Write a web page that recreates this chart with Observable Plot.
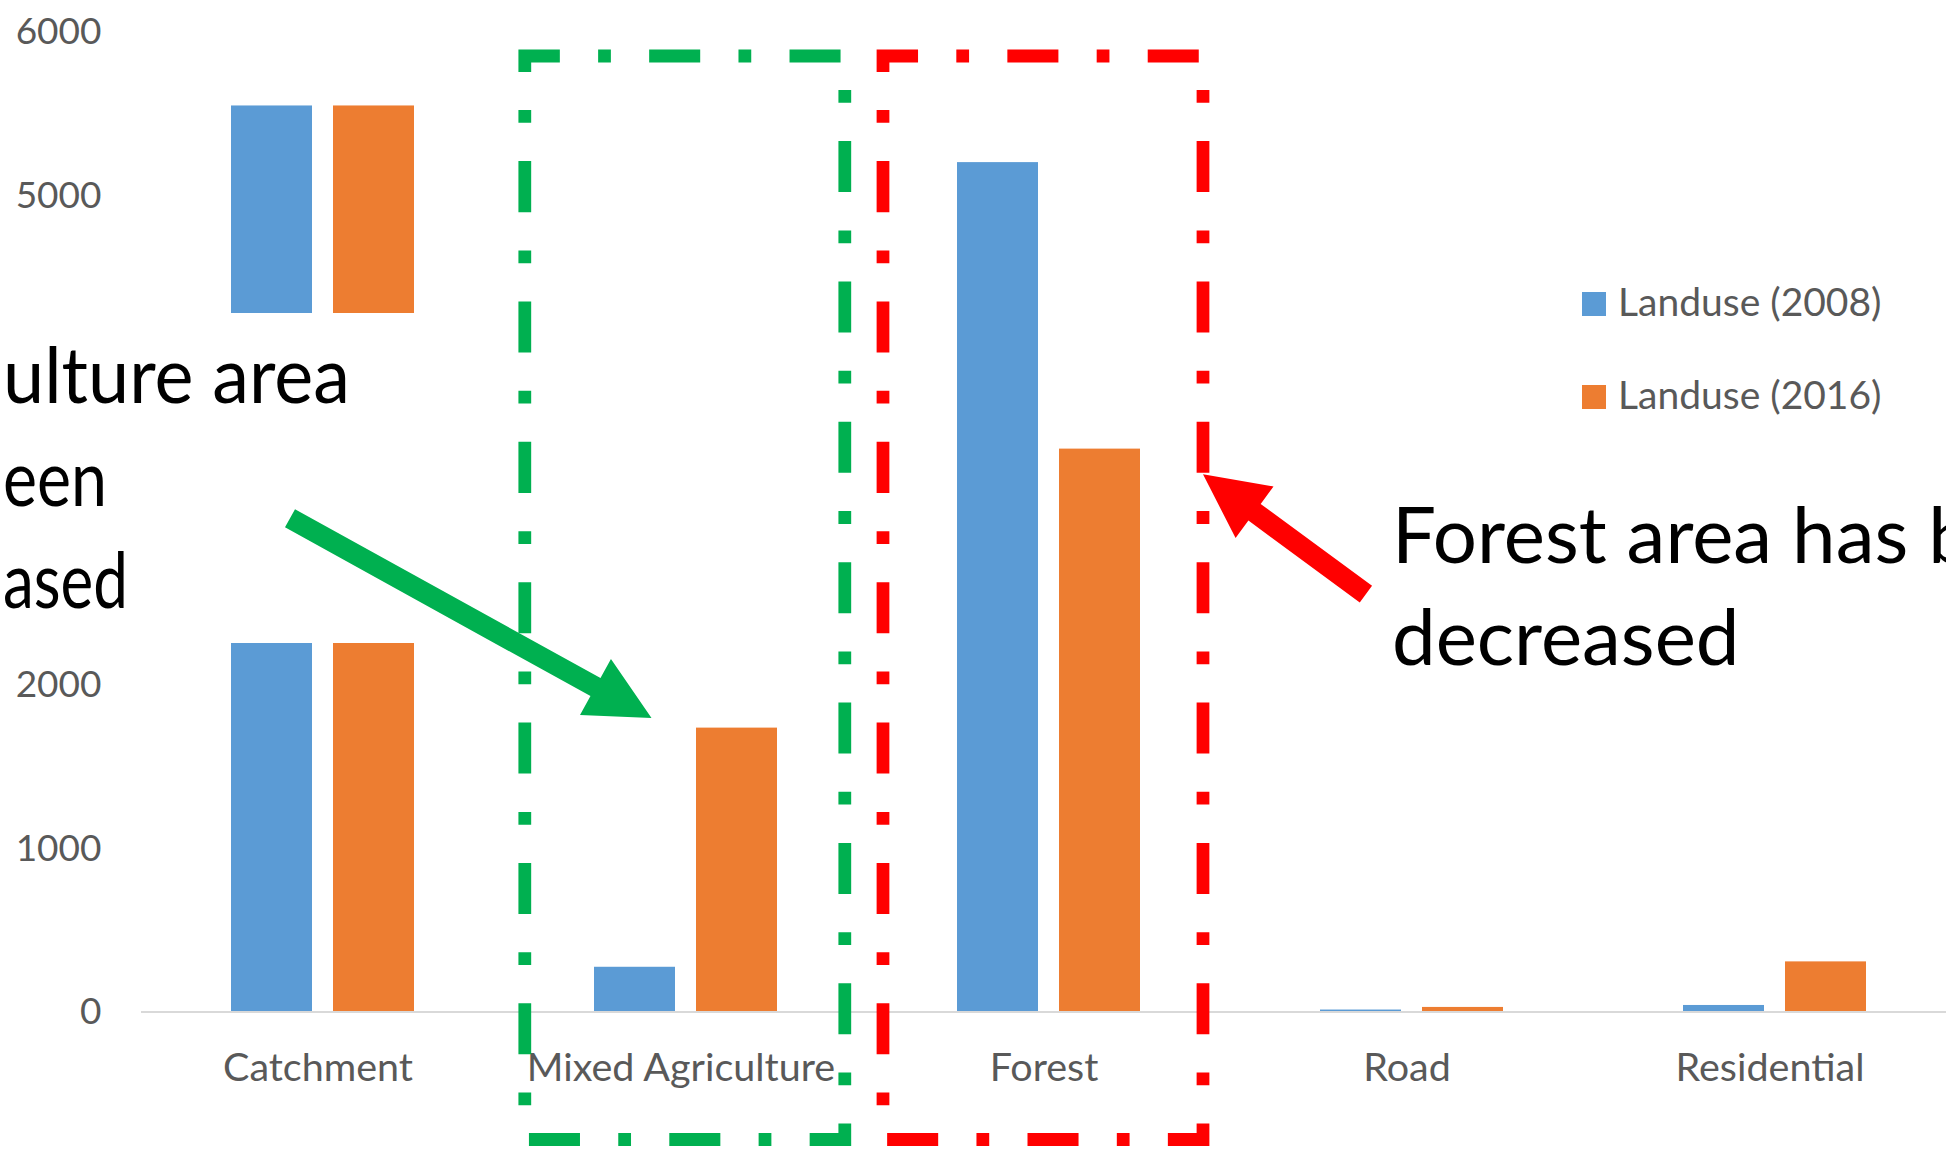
<!DOCTYPE html>
<html>
<head>
<meta charset="utf-8">
<script src="https://cdn.jsdelivr.net/npm/d3@7"></script>
<script src="https://cdn.jsdelivr.net/npm/@observablehq/plot@0.6"></script>
<style>
  html, body { margin: 0; padding: 0; background: #fff; overflow: hidden; }
  #chart svg { display: block; }
</style>
</head>
<body>
<div id="chart"></div>
<script>
// ---- data ----
const categories = ["Catchment", "Mixed Agriculture", "Forest", "Road", "Residential"];
const seriesNames = ["Landuse (2008)", "Landuse (2016)"];
const landuse2008 = [5550, 274, 5203, 12, 40];
const landuse2016 = [5550, 1739, 3448, 28, 307];
// 3000 and 4000 are hidden under the annotation box in the reference
const yTicks = [0, 1000, 2000, 5000, 6000];
const seriesColors = ["#5B9BD5", "#ED7D31"];

// visible parts of the annotation texts (the reference is cropped)
const annotationLeft = ["ulture area", "een", "ased"];
const annotationRight = ["Forest area has been", "decreased"];

const rows = categories.flatMap((c, i) => [
  {category: c, series: seriesNames[0], value: landuse2008[i]},
  {category: c, series: seriesNames[1], value: landuse2016[i]}
]);

const W = 1946, H = 1154;
const axisGray = "#595959";
const FONT = "Lato, 'Open Sans', sans-serif";

const plot = Plot.plot({
  width: W,
  height: H,
  marginLeft: 140,
  marginRight: -11,
  marginTop: 32,
  marginBottom: 142.5,
  style: {fontFamily: FONT, fontSize: "38px", background: "white", color: axisGray},
  fx: {domain: categories, padding: 0, label: null},
  x: {domain: seriesNames, paddingInner: 0.204, paddingOuter: 0.866, axis: null},
  y: {domain: [0, 6000]},
  color: {domain: seriesNames, range: seriesColors},
  marks: [
    Plot.barY(rows, {fx: "category", x: "series", y: "value", fill: "series"}),
    Plot.ruleY([0], {stroke: "#d9d9d9", strokeWidth: 2}),
    Plot.axisY({ticks: yTicks, tickSize: 0, tickPadding: 40, label: null, fill: axisGray, fontSize: 37, tickFormat: d => String(d)}),
    Plot.axisFx({anchor: "bottom", tickSize: 0, tickPadding: 41, label: null, fill: axisGray, fontSize: 39.5, dx: -5})
  ]
});

document.getElementById("chart").appendChild(plot);

// ---- annotations, anchored on the plot's own scales ----
const svg = d3.select(plot);
const fx = plot.scale("fx");
const y = plot.scale("y");
const color = plot.scale("color");
const center = c => fx.apply(c) + fx.bandwidth / 2;

// white text box that covers part of the chart
svg.append("rect")
  .attr("x", -20).attr("y", 313)
  .attr("width", 490).attr("height", 643 - 313)
  .attr("fill", "white");

// left annotation text: fitted to the widths visible in the reference
const leftWidths = [347, 104, 125];
const leftBase = [403, 505.5, 608];
annotationLeft.forEach((t, i) => {
  svg.append("text")
    .attr("x", 3).attr("y", leftBase[i])
    .attr("text-anchor", "start")
    .attr("font-family", FONT).attr("font-size", 78)
    .attr("textLength", leftWidths[i])
    .attr("lengthAdjust", "spacingAndGlyphs")
    .attr("fill", "black")
    .text(t);
});

// right annotation text
const rightBase = [563, 665];
annotationRight.forEach((t, i) => {
  svg.append("text")
    .attr("x", 1392).attr("y", rightBase[i])
    .attr("text-anchor", "start")
    .attr("font-family", FONT).attr("font-size", 78)
    .attr("fill", "black")
    .text(t);
});

// block arrows
function arrow(T, P, fill) {
  const shaft = 20.7, headW = 64, headL = 64;
  const dx = P[0] - T[0], dy = P[1] - T[1];
  const len = Math.hypot(dx, dy);
  const ux = dx / len, uy = dy / len;
  const nx = -uy, ny = ux;
  const B = [P[0] - ux * headL, P[1] - uy * headL];
  const pts = [
    [T[0] + nx * shaft / 2, T[1] + ny * shaft / 2],
    [B[0] + nx * shaft / 2, B[1] + ny * shaft / 2],
    [B[0] + nx * headW / 2, B[1] + ny * headW / 2],
    P,
    [B[0] - nx * headW / 2, B[1] - ny * headW / 2],
    [B[0] - nx * shaft / 2, B[1] - ny * shaft / 2],
    [T[0] - nx * shaft / 2, T[1] - ny * shaft / 2]
  ];
  svg.append("polygon").attr("points", pts.map(p => p.join(",")).join(" ")).attr("fill", fill);
}

const mixC = center("Mixed Agriculture");
arrow([290, 518.3], [mixC - 34, y.apply(1739) - 9.6], "#00B050");

// dash-dot boxes around Mixed Agriculture and Forest
function dashedBox(cx, stroke) {
  const l = cx - 160, r = cx + 160, t = 56, b = 1139.5;
  const d = `M${l},${t + 16}L${l},${t}L${r},${t}L${r},${b}L${l},${b}Z`;
  svg.append("path")
    .attr("d", d)
    .attr("fill", "none")
    .attr("stroke", stroke)
    .attr("stroke-width", 12.76)
    .attr("stroke-dasharray", "51.04 38.28 12.76 38.28")
    .attr("stroke-linejoin", "miter")
    .attr("stroke-linecap", "butt");
}
dashedBox(mixC - 0.7, "#00B050");
const forC = center("Forest");
dashedBox(forC - 5.5, "#FF0000");

arrow([1365.9, 594.2], [forC - 5.5 + 160, 474.3], "#FF0000");

// legend
const legY = [292, 385];
seriesNames.forEach((s, i) => {
  svg.append("rect")
    .attr("x", 1582).attr("y", legY[i])
    .attr("width", 24).attr("height", 24)
    .attr("fill", color.apply(s));
  svg.append("text")
    .attr("x", 1618).attr("y", legY[i] + 24)
    .attr("text-anchor", "start")
    .attr("font-family", FONT).attr("font-size", 39)
    .attr("fill", axisGray)
    .text(s);
});
</script>
</body>
</html>
